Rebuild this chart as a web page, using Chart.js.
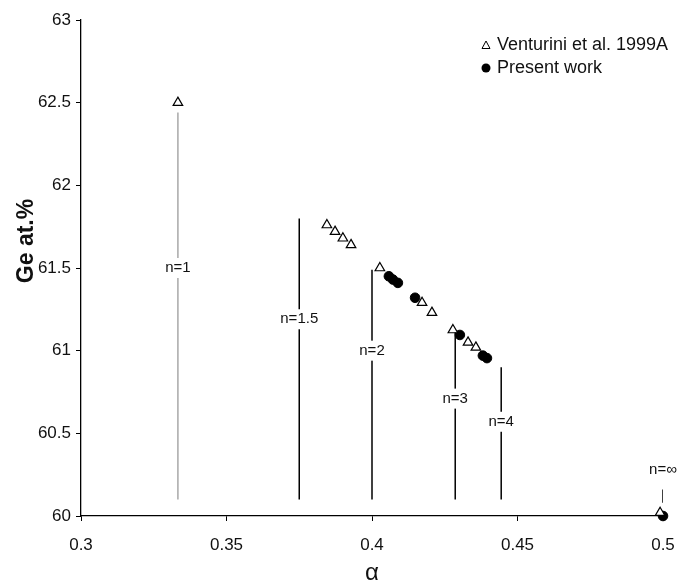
<!DOCTYPE html>
<html>
<head>
<meta charset="utf-8">
<script src="https://cdn.jsdelivr.net/npm/chart.js@4.4.1/dist/chart.umd.min.js"></script>
<style>
  html, body { margin: 0; padding: 0; background: #fff; }
  #wrap { width: 682px; height: 581px; }
</style>
</head>
<body>
<div id="wrap"><canvas id="geChart" width="682" height="581"></canvas></div>
<script>
// ---data---
var venturiniAlpha = [0.3333, 0.3845, 0.3873, 0.3900, 0.3928, 0.4027, 0.4172, 0.4206, 0.4278, 0.4330, 0.4357, 0.4990];
var venturiniGe = [62.5, 61.76, 61.72, 61.68, 61.64, 61.50, 61.29, 61.23, 61.125, 61.05, 61.02, 60.02];

var presentAlpha = [0.4058, 0.4072, 0.4089, 0.4148, 0.4302, 0.4381, 0.4395, 0.5];
var presentGe = [61.45, 61.43, 61.41, 61.32, 61.095, 60.97, 60.955, 60.0];

// n = 1, 1.5, 2, 3, 4, infinity markers
var nLabels = ["n=1", "n=1.5", "n=2", "n=3", "n=4", "n=\u221e"];
var nAlpha = [0.3333, 0.375, 0.4, 0.4286, 0.4444, 0.5];
var nBottom = [60.1, 60.1, 60.1, 60.1, 60.1, 60.08];
var nTop = [62.44, 61.8, 61.49, 61.11, 60.9, 60.16];
var nLabelGe = [61.5, 61.19, 61.0, 60.71, 60.57, 60.28];

var xTicks = [0.3, 0.35, 0.4, 0.45, 0.5];
var yTicks = [60, 60.5, 61, 61.5, 62, 62.5, 63];

var FONT = "'Liberation Sans', Arial, sans-serif";

function toPoints(xs, ys) {
  var pts = [];
  for (var i = 0; i < xs.length; i++) pts.push({ x: xs[i], y: ys[i] });
  return pts;
}

var datasets = [];
for (var i = 0; i < nAlpha.length; i++) {
  datasets.push({
    type: "line",
    label: nLabels[i],
    data: [{ x: nAlpha[i], y: nBottom[i] }, { x: nAlpha[i], y: nTop[i] }],
    borderColor: i === 0 ? "#a8a8a8" : "#000",
    borderWidth: 1.5,
    pointRadius: 0,
    fill: false,
    showLine: true,
  });
}
datasets.push({
  type: "scatter",
  label: "Venturini et al. 1999A",
  data: toPoints(venturiniAlpha, venturiniGe),
  pointStyle: "triangle",
  pointRadius: 5.5,
  backgroundColor: "#fff",
  borderColor: "#000",
  borderWidth: 1.2,
  clip: false,
});
datasets.push({
  type: "scatter",
  label: "Present work",
  data: toPoints(presentAlpha, presentGe),
  pointStyle: "circle",
  pointRadius: 4.8,
  backgroundColor: "#000",
  borderColor: "#000",
  borderWidth: 1,
  clip: false,
});

// ---labels on the n lines, y title, legend---
var annotate = {
  id: "annotate",
  afterDatasetsDraw: function (chart) {
    var ctx = chart.ctx;
    var xs = chart.scales.x, ys = chart.scales.y;
    ctx.save();
    ctx.font = "15px " + FONT;
    ctx.textAlign = "center";
    ctx.textBaseline = "middle";
    for (var i = 0; i < nLabels.length; i++) {
      var px = xs.getPixelForValue(nAlpha[i]);
      var py = ys.getPixelForValue(nLabelGe[i]);
      var w = ctx.measureText(nLabels[i]).width;
      ctx.fillStyle = "#fff";
      ctx.fillRect(px - w / 2 - 1, py - 10, w + 2, 20);
      ctx.fillStyle = "#111";
      ctx.fillText(nLabels[i], px, py);
    }

    // y axis title
    ctx.save();
    ctx.translate(27, 241);
    ctx.rotate(-Math.PI / 2);
    ctx.font = "bold 23px " + FONT;
    ctx.fillStyle = "#111";
    ctx.fillText("Ge at.%", 0, 0);
    ctx.restore();

    // legend
    var lx = 486, ly = 45;
    ctx.font = "18px " + FONT;
    ctx.textAlign = "left";
    ctx.strokeStyle = "#000";
    ctx.lineWidth = 1;
    ctx.beginPath();
    ctx.moveTo(lx, ly - 4);
    ctx.lineTo(lx - 4, ly + 3.5);
    ctx.lineTo(lx + 4, ly + 3.5);
    ctx.closePath();
    ctx.fillStyle = "#fff";
    ctx.fill();
    ctx.stroke();
    ctx.fillStyle = "#111";
    ctx.fillText("Venturini et al. 1999A", lx + 11, ly);
    ctx.beginPath();
    ctx.arc(lx, ly + 23, 4.5, 0, Math.PI * 2);
    ctx.fillStyle = "#000";
    ctx.fill();
    ctx.fillStyle = "#111";
    ctx.fillText("Present work", lx + 11, ly + 23);
    ctx.restore();
  },
};

var tickFont = { family: FONT, size: 17 };

var ctxG = document.getElementById("geChart").getContext("2d");
var geChart = new Chart(ctxG, {
  data: { datasets: datasets },
  options: {
    responsive: false,
    animation: false,
    layout: { padding: { top: 20, right: 19, left: 0, bottom: 0 } },
    plugins: {
      legend: { display: false },
      tooltip: { enabled: false },
    },
    scales: {
      x: {
        type: "linear",
        min: 0.3,
        max: 0.5,
        afterBuildTicks: function (scale) {
          scale.ticks = xTicks.map(function (v) { return { value: v }; });
        },
        afterFit: function (scale) {
          scale.height = 65;
          scale.paddingLeft = 0;
          scale.paddingRight = 0;
        },
        ticks: {
          color: "#111",
          font: tickFont,
          padding: 14,
          maxRotation: 0,
          callback: function (v) { return String(v); },
        },
        grid: { drawOnChartArea: false, drawTicks: true, tickLength: 5, color: "#000" },
        border: { display: true, color: "#000", width: 1.3 },
        title: {
          display: true,
          text: "\u03b1",
          color: "#111",
          font: { family: FONT, size: 24, lineHeight: 0.6 },
          padding: { top: 0, bottom: 0 },
        },
      },
      y: {
        type: "linear",
        min: 60,
        max: 63,
        afterBuildTicks: function (scale) {
          scale.ticks = yTicks.map(function (v) { return { value: v }; });
        },
        afterFit: function (scale) {
          scale.width = 81;
          scale.paddingTop = 0;
          scale.paddingBottom = 0;
        },
        ticks: {
          color: "#111",
          font: tickFont,
          padding: 5,
          callback: function (v) { return String(v); },
        },
        grid: { drawOnChartArea: false, drawTicks: true, tickLength: 5, color: "#000" },
        border: { display: true, color: "#000", width: 1.3 },
      },
    },
  },
  plugins: [annotate],
});
</script>
</body>
</html>
